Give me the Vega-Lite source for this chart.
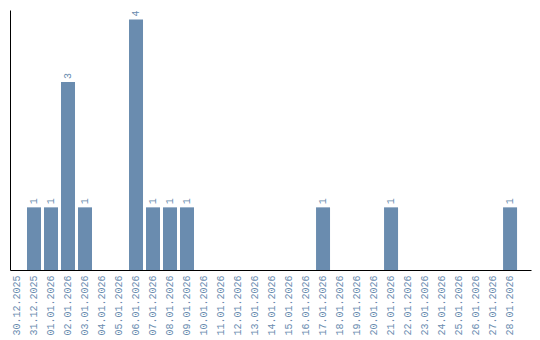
{
  "$schema": "https://vega.github.io/schema/vega-lite/v6.json",
  "width": 521,
  "height": 260,
  "autosize": "none",
  "padding": {"left": 10, "top": 10, "right": 9, "bottom": 70},
  "background": "white",
  "config": {"view": {"stroke": null}, "font": "Liberation Mono"},
  "data": {"values": [
    {"date": "30.12.2025", "count": 0},
    {"date": "31.12.2025", "count": 1},
    {"date": "01.01.2026", "count": 1},
    {"date": "02.01.2026", "count": 3},
    {"date": "03.01.2026", "count": 1},
    {"date": "04.01.2026", "count": 0},
    {"date": "05.01.2026", "count": 0},
    {"date": "06.01.2026", "count": 4},
    {"date": "07.01.2026", "count": 1},
    {"date": "08.01.2026", "count": 1},
    {"date": "09.01.2026", "count": 1},
    {"date": "10.01.2026", "count": 0},
    {"date": "11.01.2026", "count": 0},
    {"date": "12.01.2026", "count": 0},
    {"date": "13.01.2026", "count": 0},
    {"date": "14.01.2026", "count": 0},
    {"date": "15.01.2026", "count": 0},
    {"date": "16.01.2026", "count": 0},
    {"date": "17.01.2026", "count": 1},
    {"date": "18.01.2026", "count": 0},
    {"date": "19.01.2026", "count": 0},
    {"date": "20.01.2026", "count": 0},
    {"date": "21.01.2026", "count": 1},
    {"date": "22.01.2026", "count": 0},
    {"date": "23.01.2026", "count": 0},
    {"date": "24.01.2026", "count": 0},
    {"date": "25.01.2026", "count": 0},
    {"date": "26.01.2026", "count": 0},
    {"date": "27.01.2026", "count": 0},
    {"date": "28.01.2026", "count": 1}
  ]},
  "encoding": {
    "x": {
      "field": "date", "type": "nominal", "sort": null,
      "scale": {"paddingInner": 0.17647, "paddingOuter": 0.41, "align": 0},
      "axis": {"title": null, "labelAngle": -90, "ticks": false, "labelPadding": 5, "labelColor": "#6a8caf", "labelFont": "Liberation Mono", "labelFontSize": 10, "domainColor": "#000000", "domainWidth": 1, "grid": false}
    },
    "y": {
      "field": "count", "type": "quantitative",
      "scale": {"domain": [0, 4.15], "nice": false},
      "axis": {"title": null, "labels": false, "ticks": false, "grid": false, "domainColor": "#000000", "domainWidth": 1}
    }
  },
  "layer": [
    {"mark": {"type": "bar", "color": "#6a8caf"}},
    {
      "transform": [{"filter": "datum.count > 0"}],
      "mark": {"type": "text", "angle": -90, "align": "left", "baseline": "middle", "dx": 3, "color": "#6a8caf", "font": "Liberation Mono", "fontSize": 10},
      "encoding": {"text": {"field": "count", "type": "quantitative"}}
    }
  ]
}
